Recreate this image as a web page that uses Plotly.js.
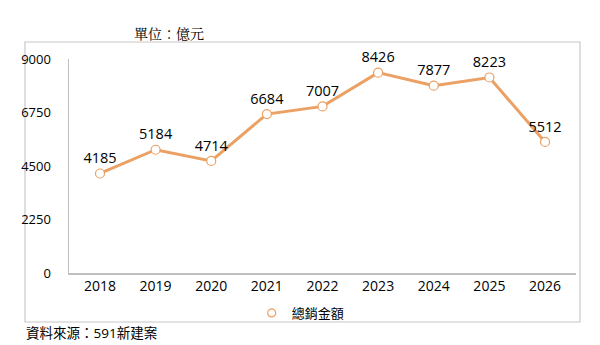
<!DOCTYPE html>
<html><head><meta charset="utf-8">
<script src="https://cdn.plot.ly/plotly-3.0.1.min.js"></script>
<style>body{margin:0;background:#fff}#c{width:600px;height:345px}</style>
</head><body><div id="c"></div>
<script>
const years = ['2018','2019','2020','2021','2022','2023','2024','2025','2026'];
const totalSales = [4185, 5184, 4714, 6684, 7007, 8426, 7877, 8223, 5512];
const yTicks = [0, 2250, 4500, 6750, 9000];
const seriesName = '總銷金額';
const unitText = '單位：億元';
const sourceText = '資料來源：591新建案';

const font = '"Open Sans", "Noto Sans CJK TC", sans-serif';
const orange = '#EBA064';

const trace = {
  x: years, y: totalSales, name: seriesName, type: 'scatter', mode: 'lines+markers+text',
  text: totalSales.map(String), textposition: 'top center',
  textfont: {family: font, size: 14.5, color: '#000'},
  line: {color: orange, width: 3},
  marker: {symbol: 'circle', size: 9, color: '#fff', line: {color: orange, width: 1.2}},
  cliponaxis: false, showlegend: false
};
const legendTrace = {
  x: [null], y: [null], name: seriesName, type: 'scatter', mode: 'markers',
  marker: {symbol: 'circle', size: 8, color: '#fff', line: {color: orange, width: 1.2}},
  showlegend: true
};

const layout = {
  width: 600, height: 345,
  margin: {l: 69, r: 24, t: 59, b: 72},
  paper_bgcolor: '#fff', plot_bgcolor: '#fff',
  font: {family: font, size: 13, color: '#000'},
  showlegend: true,
  legend: {x: 0.457, y: -0.187, xanchor: 'center', yanchor: 'middle', orientation: 'h',
           itemwidth: 30, font: {family: font, size: 13, color: '#000'}, bgcolor: 'rgba(0,0,0,0)'},
  xaxis: {type: 'category', showline: true, linecolor: '#bfbfbf', linewidth: 1.5,
          showgrid: false, zeroline: false, ticks: '', tickfont: {size: 14}, fixedrange: true},
  yaxis: {range: [0, 9000], tickvals: yTicks, ticktext: yTicks.map(String),
          showline: true, linecolor: '#bfbfbf', linewidth: 1.5,
          showgrid: false, zeroline: false, ticks: '', ticklabelstandoff: 14,
          tickfont: {size: 13}, fixedrange: true},
  shapes: [{type: 'rect', xref: 'paper', yref: 'paper', x0: -0.0868, x1: 1.0079, y0: -0.229, y1: 1.0794,
            line: {color: '#c8c8c8', width: 1.2}, fillcolor: 'rgba(0,0,0,0)', layer: 'below'}],
  annotations: [
    {text: unitText, xref: 'paper', yref: 'paper', x: (169-69)/507, y: (273-33)/214,
     xanchor: 'center', yanchor: 'middle', showarrow: false,
     font: {family: '"Noto Serif CJK TC", "Noto Sans CJK TC", serif', size: 14, color: '#000'}},
    {text: sourceText, xref: 'paper', yref: 'paper', x: (24-69)/507, y: (273-344)/214,
     xanchor: 'left', yanchor: 'bottom', showarrow: false,
     font: {family: font, size: 13.5, color: '#000'}}
  ]
};

Plotly.newPlot('c', [trace, legendTrace], layout, {displayModeBar: false, staticPlot: true});
</script></body></html>
